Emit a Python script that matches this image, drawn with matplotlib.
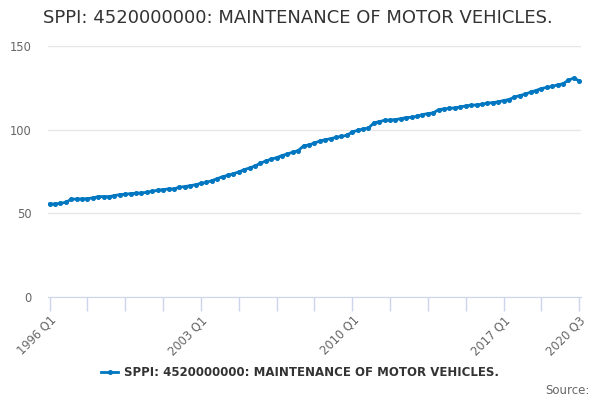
import matplotlib
matplotlib.use("Agg")
import matplotlib.pyplot as plt

# quarterly series 1996 Q1 .. 2020 Q3
years = list(range(1996, 2021))
quarters = [f"{y} Q{q}" for y in years for q in range(1, 5)][:99]
values = [
    55.6, 55.6, 56.0, 56.6, 58.4, 58.6, 58.6, 58.8,
    59.2, 60.0, 60.0, 60.0, 60.6, 61.2, 61.4, 61.8,
    62.0, 62.2, 62.6, 63.2, 63.8, 64.2, 64.6, 64.6,
    65.6, 66.0, 66.5, 67.1, 67.9, 68.5, 69.5, 70.7,
    71.9, 72.7, 73.7, 74.7, 76.1, 77.1, 78.3, 79.9,
    81.3, 82.3, 83.3, 84.5, 85.5, 86.5, 87.5, 90.3,
    90.9, 92.0, 93.2, 94.0, 94.6, 95.4, 96.0, 96.6,
    98.6, 99.6, 100.4, 101.0, 104.0, 104.8, 105.6, 105.8,
    106.0, 106.6, 107.2, 107.4, 108.0, 109.0, 109.6, 110.0,
    112.0, 112.4, 112.8, 113.0, 113.6, 114.2, 114.6, 114.8,
    115.2, 115.8, 116.2, 116.6, 117.4, 118.0, 119.4, 120.4,
    121.2, 122.4, 123.4, 124.6, 125.2, 125.8, 126.8, 127.4,
    129.6, 130.8, 129.2,
]
title = "SPPI: 4520000000: MAINTENANCE OF MOTOR VEHICLES."
label_ticks = ["1996 Q1", "2003 Q1", "2010 Q1", "2017 Q1", "2020 Q3"]

plt.rcParams["font.family"] = ["DejaVu Sans"]
fig = plt.figure(figsize=(6, 4), dpi=100)
ax = fig.add_axes([0.08, 0.2575, 0.888, 0.6275])

x = list(range(len(values)))
line, = ax.plot(x, values, color="#0077c0", lw=2, marker="o", ms=2.6, zorder=3)

ax.set_ylim(0, 150)
ax.set_yticks([0, 50, 100, 150])
ax.set_xlim(-0.3, len(values) - 0.7)
ticks = list(range(0, len(values), 7))
ax.set_xticks(ticks)
ax.set_xticklabels([quarters[t] if quarters[t] in label_ticks else "" for t in ticks],
                   rotation=45, ha="right", rotation_mode="anchor")

ax.grid(axis="y", color="#e6e6e6", lw=1)
ax.set_axisbelow(True)
for s in ["top", "right", "left"]:
    ax.spines[s].set_visible(False)
ax.spines["bottom"].set_color("#ccd6eb")
ax.tick_params(axis="x", colors="#ccd6eb", length=10, width=1, labelcolor="#666666", labelsize=8.3, pad=2)
ax.tick_params(axis="y", length=0, labelcolor="#666666", labelsize=8.3, pad=12)

fig.text(0.072, 0.955, title, fontsize=13, color="#333333", va="center")

leg = fig.legend([line], [title], loc="center", bbox_to_anchor=(0.5, 0.0675),
                 frameon=False, handlelength=1.5, handletextpad=0.5,
                 prop={"weight": "bold", "size": 8.5})
for t in leg.get_texts():
    t.set_color("#333333")

fig.text(0.982, 0.025, "Source:", fontsize=8.5, color="#666666", ha="right", va="center")

fig.savefig("out.png", dpi=100)
